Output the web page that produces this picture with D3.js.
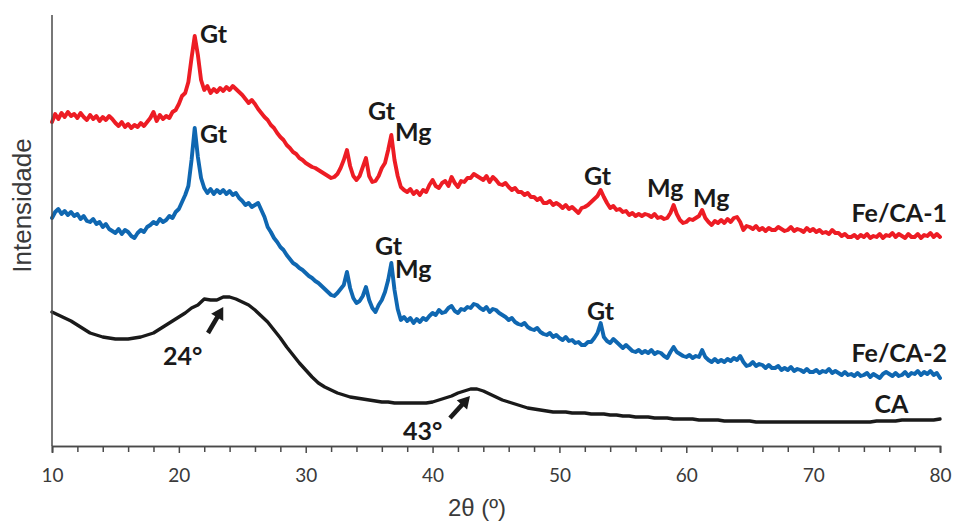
<!DOCTYPE html>
<html><head><meta charset="utf-8">
<script src="https://cdn.jsdelivr.net/npm/d3@7"></script>
<style>
html,body{margin:0;padding:0;background:#fff;}
svg{display:block;}
</style>
</head><body>
<svg id="chart" width="955" height="522"></svg>
<script>
// 2θ grid
const angleStart = 10;
const fineStep = 0.25;   // Fe/CA-1 and Fe/CA-2 sampling
const coarseStep = 0.5;  // CA sampling
const xTicks = [10, 20, 30, 40, 50, 60, 70, 80];
const xMinorTicks = [12,14,16,18,22,24,26,28,32,34,36,38,42,44,46,48,52,54,56,58,62,64,66,68,72,74,76,78];

// Fe/CA-1 intensity (a.u.), every 0.25° from 10° to 80°
const feCA1 = [
324,332,327,333, 329,334,330,332, 328,333,329,326, 331,327,330,325, 329,326,330,327,
323,320,324,319, 322,318,321,319, 323,320,324,328, 334,325,331,327, 330,328,334,336,
342,350,353,364, 388,410,391,366, 356,360,353,357, 354,358,355,359, 356,360,357,354,
351,347,343,346, 342,337,333,329, 326,321,318,313, 309,306,301,298, 294,292,288,286,
283,281,279,278, 276,274,272,270, 268,269,272,278, 286,296,280,270, 266,270,279,288,
270,264,265,270, 278,283,296,311, 286,270,259,256, 254,257,252,255, 251,256,254,261,
266,260,258,263, 265,260,269,263, 259,265,264,268, 268,272,270,268, 266,270,264,269,
266,262,261,263, 259,256,258,254, 254,251,253,249, 249,246,248,243, 243,245,241,243,
241,238,241,237, 239,236,233,238, 239,241,244,247, 250,256,249,243, 238,240,236,237,
234,235,231,233, 230,232,230,232, 231,229,232,228, 229,227,228,233, 241,232,226,223,
224,227,226,228, 230,236,228,224, 221,225,223,226, 223,227,224,228, 229,224,216,220,
219,217,220,216, 218,215,218,216, 216,219,217,215, 216,219,215,217, 216,214,218,215,
217,214,216,213, 214,212,216,213, 213,210,212,209, 209,211,208,211, 209,212,208,210,
209,212,208,211, 210,213,209,212, 210,208,212,209, 209,212,208,211, 210,213,209,212,
209];

// Fe/CA-2 intensity (a.u.), every 0.25° from 10° to 80°
const feCA2 = [
228,234,237,232, 235,231,234,230, 232,227,230,225, 224,227,222,224, 219,222,217,215,
213,217,212,216, 214,210,208,213, 216,214,219,221, 224,222,227,224, 226,230,228,234,
237,244,251,260, 286,318,289,268, 258,253,257,252, 256,253,256,252, 255,251,253,248,
245,241,243,239, 241,243,236,229, 219,214,208,204, 199,196,191,187, 183,181,178,176,
173,170,168,165, 163,160,157,154, 151,150,153,157, 161,174,158,148, 143,145,150,159,
146,138,134,141, 146,154,166,183, 156,137,126,129, 125,128,123,127, 124,128,126,130,
133,131,136,133, 134,138,140,135, 133,137,136,139, 138,142,141,138, 136,139,134,137,
136,133,131,129, 126,128,124,122, 121,123,119,117, 116,118,114,112, 111,113,109,111,
108,106,109,105, 106,103,104,101, 101,104,104,108, 113,123,109,105, 103,107,104,101,
98,101,98,95, 94,96,93,95, 93,96,92,94, 93,90,88,94, 99,94,92,90,
89,91,88,90, 89,96,89,86, 84,87,84,86, 84,87,85,88, 86,90,84,80,
81,84,80,82, 81,78,81,78, 78,80,76,78, 76,79,75,77, 76,74,77,74,
74,76,73,75, 74,77,73,75, 73,71,74,71, 72,70,73,70, 71,73,69,72,
70,68,72,74, 72,70,73,70, 71,74,70,73, 72,75,71,74, 72,75,71,73,
68];

// CA intensity (a.u.), every 0.5° from 10° to 80°
const ca = [
134,131, 128,125, 121,117, 113,111, 109,108, 107,107, 107,108, 109,111, 113,117, 121,125,
129,133, 138,141, 147,146, 146,149, 149,147, 144,141, 136,130, 124,116, 108,99, 91,83,
76,69, 63,59, 56,53, 51,49, 48,47, 46,45, 44,44, 43,43, 43,43, 43,43,
44,46, 48,50, 53,55, 57,57, 55,52, 49,46, 44,42, 40,38, 37,36, 35,34,
34,34, 33,33, 33,32, 32,32, 31,31, 30,30, 29,29, 29,28, 28,28, 27,27,
27,27, 26,26, 26,26, 25,25, 25,25, 25,24, 24,24, 24,24, 24,24, 24,24,
24,24, 24,24, 24,24, 24,24, 24,24, 25,25, 25,25, 26,26, 26,26, 26,26,
27];

const seriesNames = ["Fe/CA-1", "Fe/CA-2", "CA"];
const seriesColors = ["#ED1C24", "#0F67B1", "#1A1A1A"];

// Peak labels: [text, angle (°), intensity (a.u.)]
const peakLabels = [
  ["Gt", 21.67, 403], ["Gt", 21.67, 303],
  ["Gt", 34.91, 326], ["Mg", 37.04, 305],
  ["Gt", 35.46, 191], ["Mg", 37.04, 168],
  ["Gt", 51.94, 261], ["Mg", 56.90, 249], ["Mg", 60.53, 239],
  ["Gt", 52.17, 126]
];
// Series labels: [text, angle of right end, intensity]
const seriesLabels = [["Fe/CA-1", 80.55, 224], ["Fe/CA-2", 80.55, 84], ["CA", 77.5, 33]];
// Broad-hump labels and arrows: [text, text angle, text intensity, tail angle, tail int, tip angle, tip int]
const humpLabels = [
  ["24°", 18.75, 81, 22.3, 113, 23.5, 139],
  ["43°", 37.67, 6, 41.37, 28, 42.95, 50]
];

const svg = d3.select("#chart");
const W = 955, H = 522;
const m = {left: 52, right: 15, top: 15, bottom: 76};
const x = d3.scaleLinear().domain([10, 80]).range([m.left, W - m.right]);
const y = d3.scaleLinear().domain([0, 431]).range([H - m.bottom, m.top]);

const toPts = (arr, step) => arr.map((v, i) => [angleStart + i * step, v]);
const seriesData = [toPts(feCA1, fineStep), toPts(feCA2, fineStep), toPts(ca, coarseStep)];

const line = d3.line().x(d => x(d[0])).y(d => y(d[1]));

// lines (draw CA, then Fe/CA-2, then Fe/CA-1)
[2, 1, 0].forEach(i => {
  svg.append("path")
    .datum(seriesData[i])
    .attr("fill", "none")
    .attr("stroke", seriesColors[i])
    .attr("stroke-width", i === 2 ? 3.4 : 3.9)
    .attr("stroke-linejoin", "round")
    .attr("stroke-linecap", "round")
    .attr("d", line);
});

// y axis line
svg.append("line")
  .attr("x1", x(10)).attr("x2", x(10))
  .attr("y1", y(431)).attr("y2", y(0))
  .attr("stroke", "#4a4a4a").attr("stroke-width", 1.5);

// x axis
const xAxisG = svg.append("g").attr("transform", `translate(0,${y(0)})`);
xAxisG.call(d3.axisBottom(x).tickValues(xTicks).tickSize(7).tickPadding(16).tickFormat(d3.format("d")));
xAxisG.append("g").call(d3.axisBottom(x).tickValues(xMinorTicks).tickSize(6).tickFormat(""));
xAxisG.selectAll(".domain").attr("stroke", "#4a4a4a").attr("stroke-width", 1.5);
xAxisG.selectAll(".tick line").attr("stroke", "#4a4a4a").attr("stroke-width", 1.5);
xAxisG.selectAll(".tick text")
  .attr("font-family", "Lato, 'Open Sans', sans-serif")
  .attr("font-size", 19).attr("fill", "#3a3a3a");

// axis titles
svg.append("text")
  .attr("x", 477).attr("y", 516)
  .attr("text-anchor", "middle")
  .attr("font-family", "'Liberation Sans', Arial, sans-serif")
  .attr("font-size", 24).attr("fill", "#3a3a3a")
  .text("2θ (º)");
svg.append("text")
  .attr("transform", `translate(31,${(y(431) + y(0)) / 2 - 25}) rotate(-90)`)
  .attr("text-anchor", "middle")
  .attr("font-family", "'Liberation Sans', Arial, sans-serif")
  .attr("font-size", 26).attr("fill", "#3a3a3a")
  .text("Intensidade");

const boldFont = "Lato, 'Open Sans', sans-serif";
const labelSize = 25;
// peak labels
svg.selectAll("text.peak").data(peakLabels).enter().append("text")
  .attr("class", "peak")
  .attr("x", d => x(d[1])).attr("y", d => y(d[2]))
  .attr("font-family", boldFont).attr("font-weight", 700)
  .attr("font-size", labelSize).attr("fill", "#1a1a1a")
  .text(d => d[0]);

// series labels
svg.selectAll("text.series").data(seriesLabels).enter().append("text")
  .attr("class", "series")
  .attr("x", d => x(d[1])).attr("y", d => y(d[2]))
  .attr("text-anchor", "end")
  .attr("font-family", boldFont).attr("font-weight", 700)
  .attr("font-size", labelSize).attr("fill", "#1a1a1a")
  .text(d => d[0]);

// hump labels + arrows
humpLabels.forEach(h => {
  svg.append("text")
    .attr("x", x(h[1])).attr("y", y(h[2]))
    .attr("font-family", boldFont).attr("font-weight", 700)
    .attr("font-size", labelSize).attr("fill", "#1a1a1a")
    .text(h[0]);
  const x0 = x(h[3]), y0 = y(h[4]), x1 = x(h[5]), y1 = y(h[6]);
  const dx = x1 - x0, dy = y1 - y0, len = Math.hypot(dx, dy);
  const ux = dx / len, uy = dy / len, px = -uy, py = ux;
  const headL = 12, headW = 7;
  const bx = x1 - ux * headL, by = y1 - uy * headL;
  svg.append("line")
    .attr("x1", x0).attr("y1", y0).attr("x2", bx + ux * 1).attr("y2", by + uy * 1)
    .attr("stroke", "#1a1a1a").attr("stroke-width", 4.5);
  svg.append("path")
    .attr("d", `M${x1},${y1}L${bx + px * headW},${by + py * headW}L${bx - px * headW},${by - py * headW}Z`)
    .attr("fill", "#1a1a1a");
});
</script>
</body></html>
